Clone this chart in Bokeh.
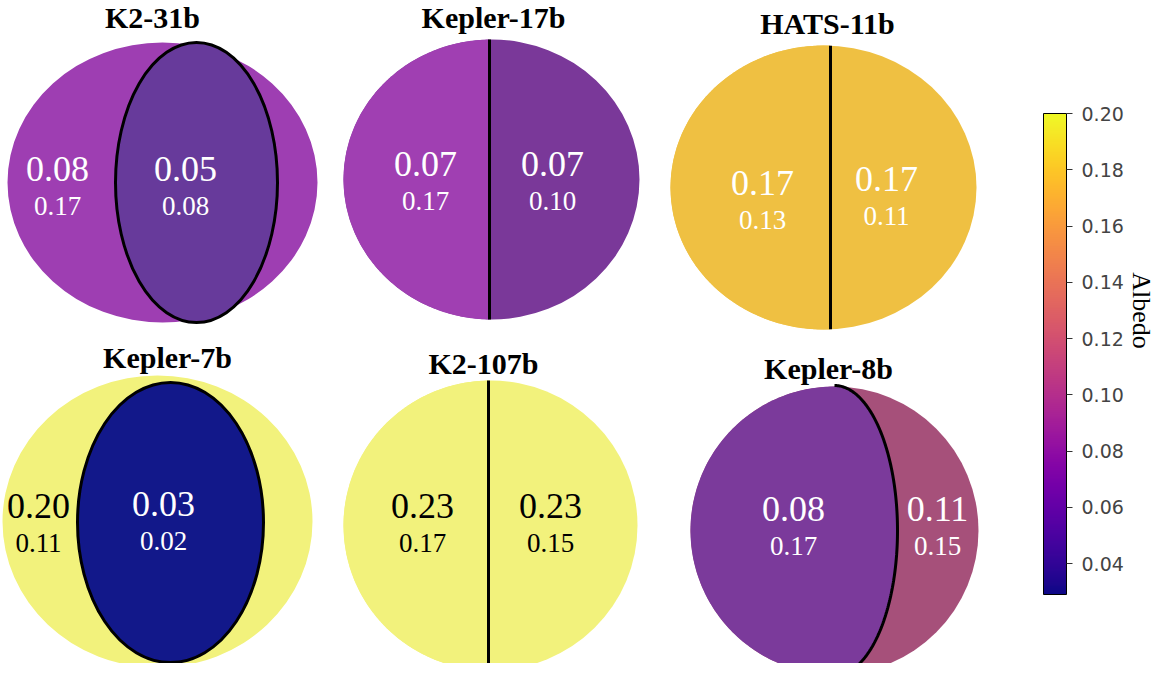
import numpy as np
from bokeh.plotting import figure
from bokeh.models import (Range1d, ColorBar, LinearColorMapper, FixedTicker,
                          PrintfTickFormatter, Label, ColumnDataSource)
from bokeh.palettes import Plasma256
from bokeh.core.properties import value
from bokeh.embed import file_html
from bokeh.resources import INLINE

# ---------------- data ----------------
planets = ["K2-31b", "Kepler-17b", "HATS-11b", "Kepler-7b", "K2-107b", "Kepler-8b"]
split_kind = ["ellipse", "line", "line", "ellipse", "line", "arc"]
# first region (outer / left) : top number, bottom number
region1_top = [0.08, 0.07, 0.17, 0.20, 0.23, 0.08]
region1_bottom = [0.17, 0.17, 0.13, 0.11, 0.17, 0.17]
# second region (inner / right) : top number, bottom number
region2_top = [0.05, 0.07, 0.17, 0.03, 0.23, 0.11]
region2_bottom = [0.08, 0.10, 0.11, 0.02, 0.15, 0.15]

cbar_ticks = [0.04, 0.06, 0.08, 0.10, 0.12, 0.14, 0.16, 0.18, 0.20]
cbar_low, cbar_high = 0.029, 0.20
cbar_title = "Albedo"

# ---------------- styles ----------------
region1_fill = ["#9e3eb2", "#a03fb2", "#efc042", "#f2f27c", "#f2f27c", "#7b3a9b"]
region2_fill = ["#673a9b", "#7a3899", "#efc042", "#12188a", "#f2f27c", "#a6507a"]
region1_text = ["white", "white", "white", "black", "black", "white"]
region2_text = ["white", "white", "white", "white", "black", "white"]

# ---------------- layout (picture pixels) ----------------
disk_cx = [162, 491, 823, 157, 490, 834]
disk_cy = [182, 179, 187, 521, 525, 530]
disk_rx = [155, 148, 153, 155, 147, 144]
disk_ry = [140, 140, 142, 146, 145, 144]
# split geometry: inner ellipse centre/radius, or divider x, or terminator rx
split_x = [196, 489, 830, 170, 488, 834]
split_rx = [81, 0, 0, 93, 0, 63]
split_ry = [140, 0, 0, 140, 0, 144]
split_cy = [182, 0, 0, 522, 0, 530]

title_x = [152, 493, 827, 167, 483, 828]
title_y = [17, 17, 23, 357, 363, 368]
r1_lx = [57, 425, 762, 38, 422, 793]
r1_ly = [168, 163, 182, 505, 505, 508]
r2_lx = [185, 552, 886, 163, 550, 937]
r2_ly = [168, 163, 178, 503, 505, 508]
line_gap = 37

W, H = 1157, 663
p = figure(width=W, height=H, x_range=Range1d(0, W), y_range=Range1d(-H, 0),
           output_backend="svg", toolbar_location=None,
           x_axis_location=None, y_axis_location=None, min_border=0)
p.grid.visible = False
p.outline_line_color = None
p.background_fill_color = "white"

for i in range(len(planets)):
    cx, cy, rx, ry = disk_cx[i], -disk_cy[i], disk_rx[i], disk_ry[i]
    kind = split_kind[i]
    if kind == "ellipse":
        p.ellipse(x=cx, y=cy, width=2 * rx, height=2 * ry,
                  fill_color=region1_fill[i], line_color=None)
        p.ellipse(x=split_x[i], y=-split_cy[i], width=2 * split_rx[i], height=2 * split_ry[i],
                  fill_color=region2_fill[i], line_color="black", line_width=3)
    elif kind == "line":
        p.ellipse(x=cx, y=cy, width=2 * rx, height=2 * ry,
                  fill_color=region2_fill[i], line_color=None)
        xd = split_x[i]
        th0 = np.arccos((xd - cx) / rx)
        th = np.linspace(th0, 2 * np.pi - th0, 300)
        p.patch(cx + rx * np.cos(th), cy + ry * np.sin(th),
                fill_color=region1_fill[i], line_color=None)
        yh = ry * np.sin(th0)
        p.line([xd, xd], [cy - yh, cy + yh], line_color="black", line_width=3)
    else:  # terminator arc
        p.ellipse(x=cx, y=cy, width=2 * rx, height=2 * ry,
                  fill_color=region2_fill[i], line_color=None)
        a = np.linspace(np.pi / 2, 3 * np.pi / 2, 200)
        b = np.linspace(-np.pi / 2, np.pi / 2, 200)
        trx = split_rx[i]
        xs = np.concatenate([cx + rx * np.cos(a), cx + trx * np.cos(b)])
        ys = np.concatenate([cy + ry * np.sin(a), cy + ry * np.sin(b)])
        p.patch(xs, ys, fill_color=region1_fill[i], line_color=None)
        p.line(cx + trx * np.cos(b), cy + (ry + 1) * np.sin(b), line_color="black", line_width=3)

serif = value("Liberation Serif")

big = ColumnDataSource(dict(
    x=r1_lx + r2_lx,
    y=[-v for v in r1_ly] + [-v for v in r2_ly],
    text=[f"{v:.2f}" for v in region1_top] + [f"{v:.2f}" for v in region2_top],
    color=region1_text + region2_text))
small = ColumnDataSource(dict(
    x=r1_lx + r2_lx,
    y=[-(v + line_gap) for v in r1_ly] + [-(v + line_gap) for v in r2_ly],
    text=[f"{v:.2f}" for v in region1_bottom] + [f"{v:.2f}" for v in region2_bottom],
    color=region1_text + region2_text))
p.text(x="x", y="y", text="text", source=big, text_color="color", text_font=serif,
       text_font_size="36px", text_align="center", text_baseline="middle")
p.text(x="x", y="y", text="text", source=small, text_color="color", text_font=serif,
       text_font_size="27px", text_align="center", text_baseline="middle")

titles = ColumnDataSource(dict(x=title_x, y=[-v for v in title_y], text=planets))
p.text(x="x", y="y", text="text", source=titles, text_color="black", text_font=serif,
       text_font_style="bold", text_font_size="30px", text_align="center", text_baseline="middle")

mapper = LinearColorMapper(palette=Plasma256, low=cbar_low, high=cbar_high)
cb = ColorBar(color_mapper=mapper, ticker=FixedTicker(ticks=cbar_ticks),
              formatter=PrintfTickFormatter(format="%.2f"),
              width=23, height=481, location=(1043, 69), padding=0, margin=0,
              bar_line_color="black", bar_line_width=1,
              major_tick_out=6, major_tick_in=0, major_tick_line_color="#333333",
              minor_tick_line_color=None,
              major_label_text_font="DejaVu Sans", major_label_text_font_size="19px",
              major_label_text_color="#444444", label_standoff=9,
              background_fill_alpha=0, border_line_color=None)
p.add_layout(cb)

p.add_layout(Label(x=1141, y=-310, text=cbar_title, angle=-np.pi / 2,
                   text_font="Liberation Serif", text_font_size="26px",
                   text_align="center", text_baseline="middle", text_color="black"))

open("out.html", "w").write(file_html(p, INLINE))
